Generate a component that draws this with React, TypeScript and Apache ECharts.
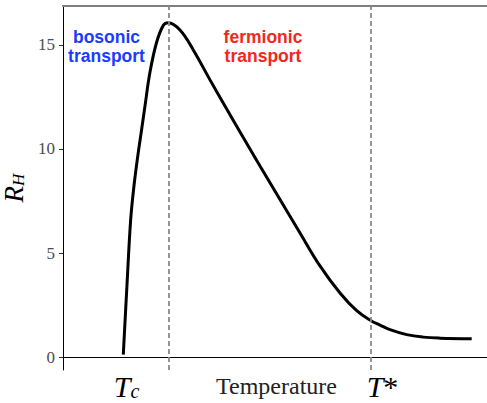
import React, { useEffect, useRef } from "react";
import * as echarts from "echarts";

// Curve (temperature in arbitrary units 0..100)
const temperature = [14.22, 15.09, 15.92, 16.63, 17.45, 18.56, 19.34, 20.52, 22.1, 23.66, 24.83, 27.59, 30.73, 34.67, 38.61, 41.75, 46.46, 51.18, 55.9, 60.61, 65.33, 69.27, 72.64, 74.76, 77.12, 81.06, 84.91, 88.92, 96.39];
const hallCoefficient = [0.12, 3.46, 6.49, 8.03, 9.38, 10.96, 12.07, 13.7, 15.14, 15.94, 16.07, 15.72, 14.76, 13.32, 11.92, 10.82, 9.18, 7.57, 5.96, 4.38, 3.08, 2.23, 1.75, 1.54, 1.32, 1.08, 0.96, 0.91, 0.88];

const dashedLinePositions = [24.83, 72.64];
const yTickValues = [0, 5, 10, 15];
const xLabelPositions = [14.98, 50.35, 75.35];
const xLabelTexts = ["{t|T}{s|c}", "{n|Temperature}", "{t|T}{a|*}"];
const annotations = [
  { text: "bosonic\ntransport", color: "#1a3cff", x: 106.5 },
  { text: "fermionic\ntransport", color: "#f0281e", x: 263 },
];

const SERIF = "'Liberation Serif', 'DejaVu Serif', serif";
const SANS = "'Liberation Sans', Arial, sans-serif";

export default function App() {
  const ref = useRef<HTMLDivElement>(null);
  useEffect(() => {
    document.body.style.margin = "0";
    const chart = echarts.init(ref.current!, null, { renderer: "svg" });
    const option: any = {
      animation: false,
      backgroundColor: "#ffffff",
      grid: { left: 63, right: 0, top: 6, bottom: 33, containLabel: false, outerBoundsMode: "none" },
      xAxis: [
        {
          type: "value",
          min: 0,
          max: 100,
          position: "bottom",
          axisLine: { show: true, lineStyle: { color: "#000", width: 1 } },
          axisTick: { show: false },
          splitLine: { show: false },
          axisLabel: {
            customValues: xLabelPositions,
            margin: 1,
            formatter: (v: number) => {
              let best = 0;
              for (let i = 1; i < xLabelPositions.length; i++) {
                if (Math.abs(xLabelPositions[i] - v) < Math.abs(xLabelPositions[best] - v)) best = i;
              }
              return xLabelTexts[best];
            },
            rich: {
              t: { fontFamily: SERIF, fontStyle: "italic", fontSize: 30, lineHeight: 30, color: "#000" },
              s: { fontFamily: SERIF, fontStyle: "italic", fontSize: 20, lineHeight: 6, verticalAlign: "bottom", color: "#000" },
              a: { fontFamily: SERIF, fontSize: 30, lineHeight: 30, color: "#000" },
              n: { fontFamily: SERIF, fontSize: 24, lineHeight: 30, color: "#222" },
            },
          },
        },
        {
          type: "value",
          min: 0,
          max: 100,
          position: "top",
          axisLine: { show: true, lineStyle: { color: "#7f7f7f", width: 2 } },
          axisTick: { show: false },
          axisLabel: { show: false },
          splitLine: { show: false },
        },
      ],
      yAxis: {
        type: "value",
        min: -0.62,
        max: 16.87,
        axisLine: { show: true, lineStyle: { color: "#000", width: 1 } },
        axisTick: { show: true, length: 4, customValues: yTickValues, lineStyle: { color: "#333" } },
        axisLabel: { customValues: yTickValues, color: "#4d4d4d", fontFamily: SERIF, fontSize: 17, margin: 8 },
        splitLine: { show: false },
        name: "{r|R}{h|H}",
        nameLocation: "middle",
        nameRotate: 90,
        nameGap: 28,
        nameTextStyle: {
          rich: {
            r: { fontFamily: SERIF, fontStyle: "italic", fontSize: 27, lineHeight: 27, color: "#000" },
            h: { fontFamily: SERIF, fontStyle: "italic", fontSize: 17, lineHeight: 6, verticalAlign: "bottom", color: "#000" },
          },
        },
      },
      series: [
        {
          type: "line",
          data: temperature.map((t, i) => [t, hallCoefficient[i]]),
          showSymbol: false,
          smooth: 0.4,
          lineStyle: { color: "#000", width: 3 },
          z: 3,
          markLine: {
            silent: true,
            symbol: ["none", "none"],
            label: { show: false },
            lineStyle: { color: "#888", type: [5, 3], width: 1.8 },
            data: dashedLinePositions.map((x) => ({ xAxis: x })),
          },
        },
      ],
      graphic: annotations.map((a) => ({
        type: "text",
        x: a.x,
        y: 27,
        style: {
          text: a.text,
          fill: a.color,
          fontFamily: SANS,
          fontWeight: "bold",
          fontSize: 17.5,
          lineHeight: 19,
          align: "center",
          verticalAlign: "top",
        },
      })),
    };
    chart.setOption(option);
    return () => chart.dispose();
  }, []);
  return (
    <div
      ref={ref}
      style={{ position: "absolute", left: 0, top: 0, width: 487, height: 403, background: "#fff" }}
    />
  );
}
